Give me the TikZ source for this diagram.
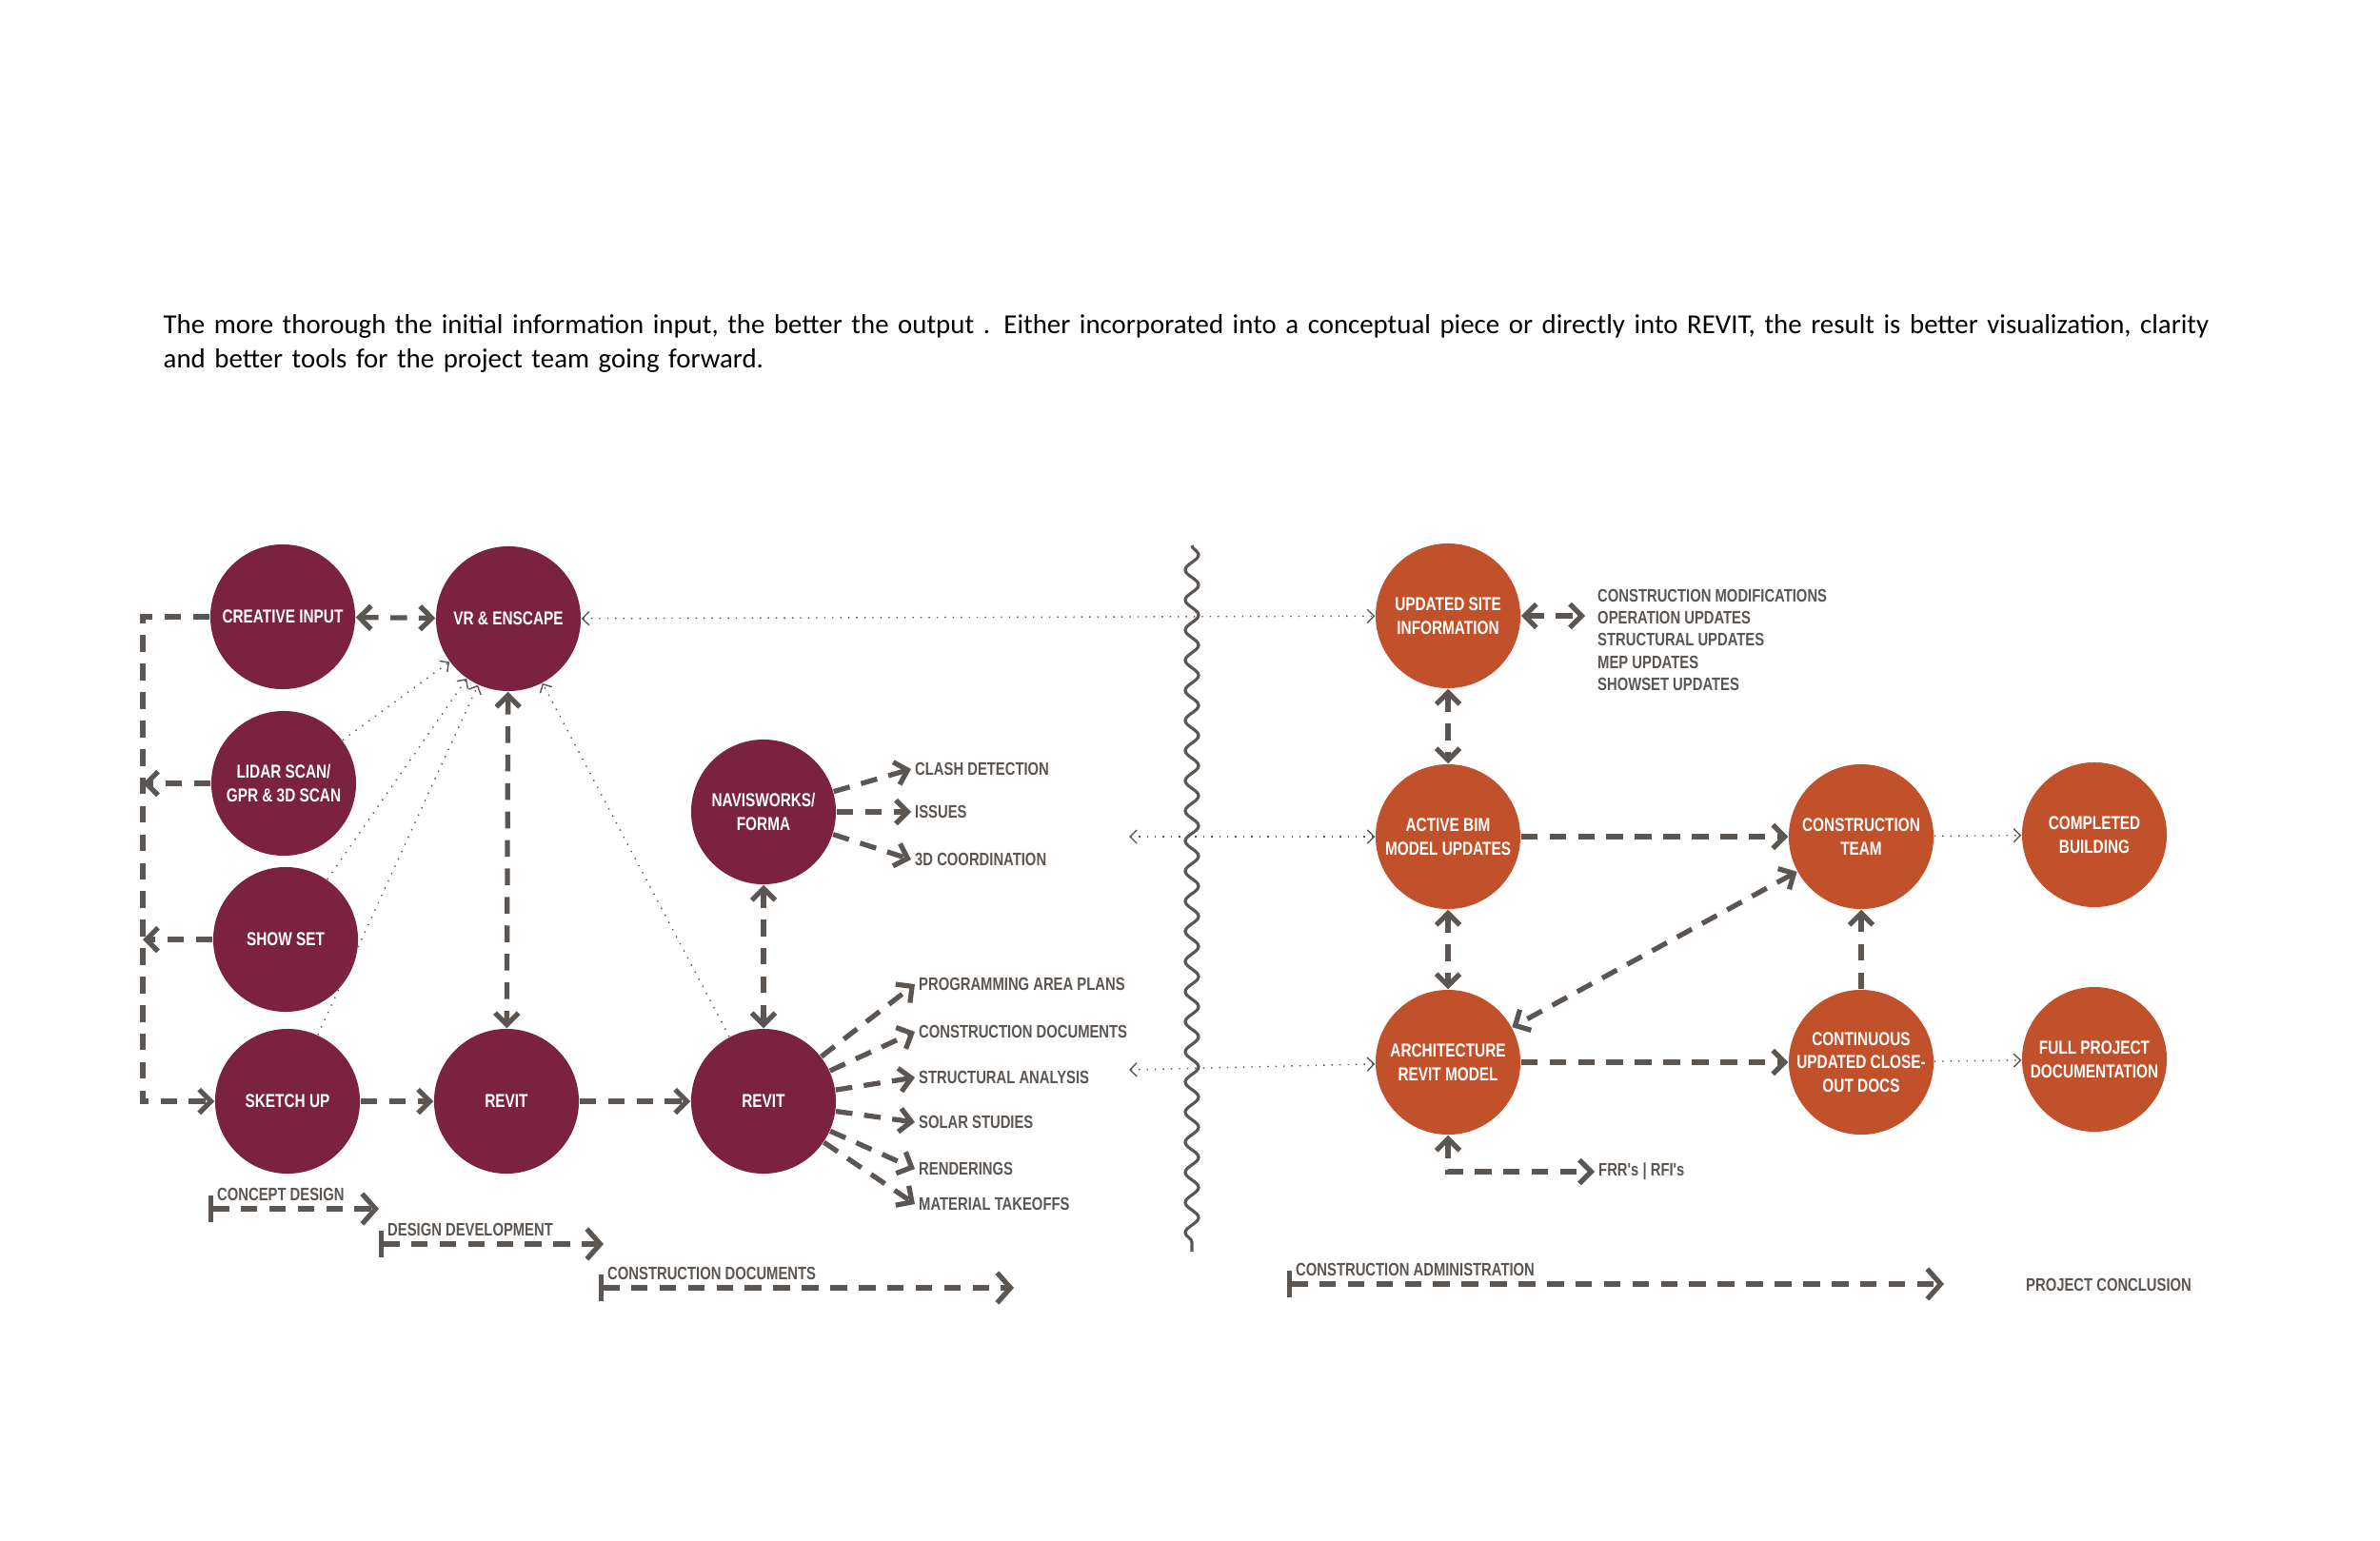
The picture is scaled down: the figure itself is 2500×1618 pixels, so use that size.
\documentclass[tikz,border=0pt]{standalone}
\usepackage{fontspec}
\setmainfont{Carlito}
\newfontfamily\condfont[FakeStretch=0.78]{Liberation Sans}
\usepackage{tikz}
\usetikzlibrary{positioning, arrows.meta, decorations.pathmorphing}
\definecolor{maroon}{HTML}{7A2240}
\definecolor{rust}{HTML}{C1512A}
\definecolor{ink}{HTML}{5B5652}
\tikzset{
  stage/.style={circle, minimum size=1.52cm, inner sep=0pt, align=center, text=white,
    font=\condfont\bfseries\fontsize{5.6}{7}\selectfont},
  early/.style={stage, fill=maroon},
  late/.style={stage, fill=rust},
  lbl/.style={text=ink, font=\condfont\bfseries\fontsize{5.4}{6.6}\selectfont, inner sep=1pt, align=left},
  flow/.style={ink, line width=1.5pt, dash pattern=on 5pt off 3.5pt, -{Straight Barb[length=3.5pt,width=7pt,line width=1.5pt]}},
  flowb/.style={flow, {Straight Barb[length=3.5pt,width=7pt,line width=1.5pt]}-{Straight Barb[length=3.5pt,width=7pt,line width=1.5pt]}},
  thin/.style={ink, line width=0.4pt, dotted, -{Straight Barb[length=2pt,width=4pt]}},
  thinb/.style={thin, {Straight Barb[length=2pt,width=4pt]}-{Straight Barb[length=2pt,width=4pt]}},
  phase/.style={flow, {Bar[width=8pt,line width=1.5pt]}-{Straight Barb[length=4pt,width=9pt,line width=1.5pt]}}
}
\begin{document}
\begin{tikzpicture}[x=0.01cm, y=-0.01cm]
  \useasboundingbox (0,0) rectangle (2500,1618);
  % intro text
  \node[anchor=north west, text width=21.6cm, align=left, inner sep=0pt, font=\fontsize{8.2}{10.2}\selectfont] (intro) at (171,330)
    {The more thorough the initial information input, the better the output . Either incorporated into a conceptual piece or directly into REVIT, the result is better visualization, clarity and better tools for the project team going forward.};
  % left half: design phases
  \node[early] (creative) at (297,648) {CREATIVE INPUT};
  \node[early] (vr) at (534,650) {VR \& ENSCAPE};
  \node[early] (lidar) at (298,823) {LIDAR SCAN/\\GPR \& 3D SCAN};
  \node[early] (show) at (300,987) {SHOW SET};
  \node[early] (sketch) at (302,1157) {SKETCH UP};
  \node[early] (revitA) at (532,1157) {REVIT};
  \node[early] (revitB) at (802,1157) {REVIT};
  \node[early] (navis) at (802,853) {NAVISWORKS/\\FORMA};
  % right half: construction
  \node[late] (site) at (1521,647) {UPDATED SITE\\INFORMATION};
  \node[late] (bim) at (1521,879) {ACTIVE BIM\\MODEL UPDATES};
  \node[late] (arch) at (1521,1116) {ARCHITECTURE\\REVIT MODEL};
  \node[late] (team) at (1955,879) {CONSTRUCTION\\TEAM};
  \node[late] (closeout) at (1955,1116) {CONTINUOUS\\UPDATED CLOSE-\\OUT DOCS};
  \node[late] (done) at (2200,877) {COMPLETED\\BUILDING};
  \node[late] (fulldoc) at (2200,1113) {FULL PROJECT\\DOCUMENTATION};
  % wavy divider
  \draw[ink, line width=0.9pt, decorate, decoration={snake, amplitude=2pt, segment length=9pt}] (1252,573) -- (1252,1315);
  % feedback loop on the left
  \coordinate (loopT) at (150,648);
  \coordinate (loopB) at (150,1157);
  \coordinate (lidarL) at (150,823);
  \coordinate (showL) at (150,987);
  \draw[flow] (creative.west) -- (loopT) -- (loopB) -- (sketch.west);
  \draw[flow] (lidar.west) -- (lidarL);
  \draw[flow] (show.west) -- (showL);
  \draw[flowb] (creative) -- (vr);
  \draw[thin] (lidar) -- (vr);
  \draw[thin] (show) -- (vr);
  \draw[thin] (sketch) -- (vr);
  \draw[thin] (revitB) -- (vr);
  \draw[flowb] (vr) -- (revitA);
  \draw[flow] (sketch) -- (revitA);
  \draw[flow] (revitA) -- (revitB);
  \draw[flowb] (navis) -- (revitB);
  % navisworks outputs
  \node[lbl, anchor=west] (clash) at (957,808) {CLASH DETECTION};
  \node[lbl, anchor=west] (issues) at (957,853) {ISSUES};
  \node[lbl, anchor=west] (coord) at (957,903) {3D COORDINATION};
  \foreach \t in {clash, issues, coord}
    \draw[flow] (navis) -- (\t.west);
  % revit outputs
  \node[lbl, anchor=west] (prog) at (961,1034) {PROGRAMMING AREA PLANS};
  \node[lbl, anchor=west] (cdocs) at (961,1084) {CONSTRUCTION DOCUMENTS};
  \node[lbl, anchor=west] (struct) at (961,1132) {STRUCTURAL ANALYSIS};
  \node[lbl, anchor=west] (solar) at (961,1179) {SOLAR STUDIES};
  \node[lbl, anchor=west] (render) at (961,1228) {RENDERINGS};
  \node[lbl, anchor=west] (takeoff) at (961,1265) {MATERIAL TAKEOFFS};
  \foreach \t in {prog, cdocs, struct, solar, render, takeoff}
    \draw[flow] (revitB) -- (\t.west);
  % links across the divider
  \coordinate (bimL) at (1186,879);
  \coordinate (archL) at (1186,1124);
  \draw[thinb] (vr) -- (site);
  \draw[thinb] (bimL) -- (bim);
  \draw[thinb] (archL) -- (arch);
  % construction side flows
  \node[lbl, anchor=north west] (updates) at (1674,615)
    {CONSTRUCTION MODIFICATIONS\\OPERATION UPDATES\\STRUCTURAL UPDATES\\MEP UPDATES\\SHOWSET UPDATES};
  \coordinate (updL) at (1665,647);
  \draw[flowb] (site) -- (updL);
  \draw[flowb] (site) -- (bim);
  \draw[flowb] (bim) -- (arch);
  \draw[flow] (bim) -- (team);
  \draw[flowb] (team) -- (arch);
  \draw[flow] (closeout) -- (team);
  \draw[flow] (arch) -- (closeout);
  \draw[thin] (team) -- (done);
  \draw[thin] (closeout) -- (fulldoc);
  \node[lbl, anchor=west] (frr) at (1675,1231) {FRR's | RFI's};
  \coordinate (frrC) at (1521,1231);
  \draw[flowb] (arch) -- (frrC) -- (frr.west);
  % phase bars
  \coordinate (cdS) at (219,1270); \coordinate (cdE) at (398,1270);
  \coordinate (ddS) at (398,1307); \coordinate (ddE) at (634,1307);
  \coordinate (csS) at (629,1353); \coordinate (csE) at (1065,1353);
  \coordinate (caS) at (1352,1349); \coordinate (caE) at (2042,1349);
  \draw[phase] (cdS) -- (cdE);
  \draw[phase] (ddS) -- (ddE);
  \draw[phase] (csS) -- (csE);
  \draw[phase] (caS) -- (caE);
  \node[lbl, anchor=south west] (cdT) at (224,1266) {CONCEPT DESIGN};
  \node[lbl, anchor=south west] (ddT) at (403,1303) {DESIGN DEVELOPMENT};
  \node[lbl, anchor=south west] (csT) at (634,1349) {CONSTRUCTION DOCUMENTS};
  \node[lbl, anchor=south west] (caT) at (1357,1345) {CONSTRUCTION ADMINISTRATION};
  \node[lbl, anchor=west] (concl) at (2124,1350) {PROJECT CONCLUSION};
\end{tikzpicture}
\end{document}
